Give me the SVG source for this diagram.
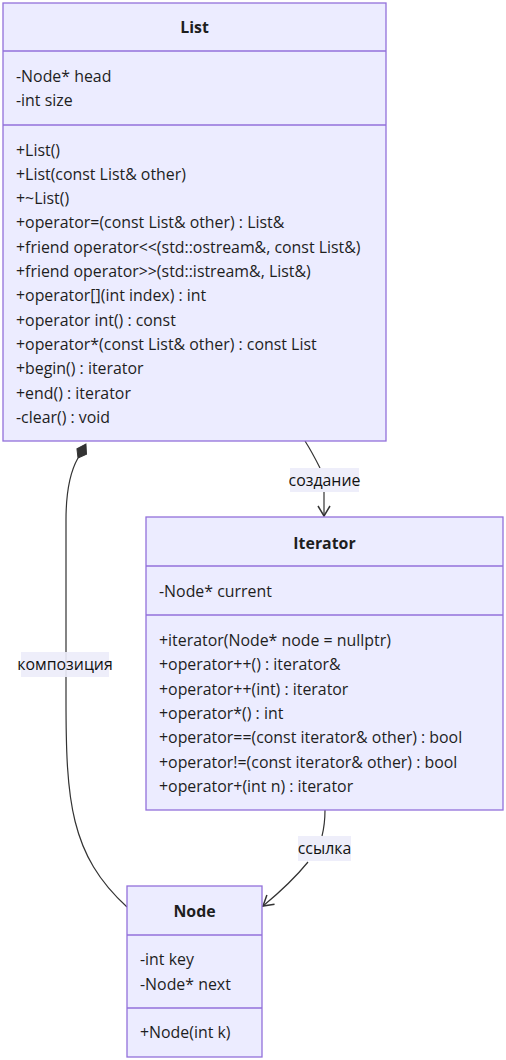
<svg xmlns="http://www.w3.org/2000/svg" width="506" height="1060" viewBox="0 0 506 1060">
<style>
.box{fill:#ECECFF;stroke:#9370DB;stroke-width:1.3}
.div{stroke:#9370DB;stroke-width:1.3}
text{font-family:"Open Sans","Liberation Sans",Arial,sans-serif;font-size:15.9px;fill:#1e1e1e}
.t{font-weight:bold;text-anchor:middle}
.edge{fill:none;stroke:#333;stroke-width:1.2}
.lbg{fill:#ECECFA;opacity:0.9}
.lbl{text-anchor:middle;fill:#111}
</style>
<defs>
<marker id="arr" markerWidth="14" markerHeight="14" refX="12" refY="7" orient="auto" markerUnits="userSpaceOnUse">
<path d="M2,1 L12,7 L2,13" fill="none" stroke="#333" stroke-width="1.5"/>
</marker>
<marker id="comp" markerWidth="20" markerHeight="14" refX="1" refY="7" orient="auto" markerUnits="userSpaceOnUse">
<path d="M1,7 L8.5,1.5 L17,7 L8.5,12.5 Z" fill="#333" stroke="#333" stroke-width="1"/>
</marker>
</defs>
<g id="connectors">
<path class="edge" d="M127,907 C70,855 66,800 66,700 L66,520 C66,490 70,472 78,458" marker-end="url(#comp)"/>
<path class="edge" d="M305,441 C312,452 317,462 320,468"/>
<path class="edge" d="M324,492 L324,516" marker-end="url(#arr)"/>
<path class="edge" d="M325,810 C325,820 324,828 322,836"/>
<path class="edge" d="M308,862 C295,878 280,892 263,906" marker-end="url(#arr)"/>
<g id="label-sozdanie">
<rect class="lbg" x="290" y="468" width="69" height="24"/>
<text class="lbl" x="324.5" y="485.5">создание</text>
</g>
<g id="label-kompoziciya">
<rect class="lbg" x="21" y="652" width="88" height="25"/>
<text class="lbl" x="65" y="669.5">композиция</text>
</g>
<g id="label-ssylka">
<rect class="lbg" x="298" y="836" width="53" height="25"/>
<text class="lbl" x="324.5" y="853.5">ссылка</text>
</g>
</g>
<g id="List">
<rect class="box" x="3" y="3" width="383" height="438"/>
<line class="div" x1="3" y1="51" x2="386" y2="51"/>
<line class="div" x1="3" y1="125" x2="386" y2="125"/>
<text class="t" x="194.5" y="32.5">List</text>
<text x="16" y="81.5">-Node* head</text>
<text x="16" y="105.5">-int size</text>
<text x="16" y="155.5">+List()</text>
<text x="16" y="179.5">+List(const List&amp; other)</text>
<text x="16" y="203.5">+~List()</text>
<text x="16" y="228">+operator=(const List&amp; other) : List&amp;</text>
<text x="16" y="252.5">+friend operator&lt;&lt;(std::ostream&amp;, const List&amp;)</text>
<text x="16" y="276.5">+friend operator&gt;&gt;(std::istream&amp;, List&amp;)</text>
<text x="16" y="301">+operator[](int index) : int</text>
<text x="16" y="325.5">+operator int() : const</text>
<text x="16" y="349.5">+operator*(const List&amp; other) : const List</text>
<text x="16" y="374">+begin() : iterator</text>
<text x="16" y="398.5">+end() : iterator</text>
<text x="16" y="423">-clear() : void</text>
</g>
<g id="Iterator">
<rect class="box" x="146" y="517" width="357" height="293"/>
<line class="div" x1="146" y1="566" x2="503" y2="566"/>
<line class="div" x1="146" y1="615" x2="503" y2="615"/>
<text class="t" x="324.5" y="548.5">Iterator</text>
<text x="159" y="596.5">-Node* current</text>
<text x="159" y="645.5">+iterator(Node* node = nullptr)</text>
<text x="159" y="669.5">+operator++() : iterator&amp;</text>
<text x="159" y="694.5">+operator++(int) : iterator</text>
<text x="159" y="718.5">+operator*() : int</text>
<text x="159" y="743">+operator==(const iterator&amp; other) : bool</text>
<text x="159" y="767.5">+operator!=(const iterator&amp; other) : bool</text>
<text x="159" y="792">+operator+(int n) : iterator</text>
</g>
<g id="Node">
<rect class="box" x="127" y="886" width="135" height="171"/>
<line class="div" x1="127" y1="935" x2="262" y2="935"/>
<line class="div" x1="127" y1="1008" x2="262" y2="1008"/>
<text class="t" x="194.5" y="916.5">Node</text>
<text x="140" y="965">-int key</text>
<text x="140" y="989.5">-Node* next</text>
<text x="140" y="1038">+Node(int k)</text>
</g>
</svg>
